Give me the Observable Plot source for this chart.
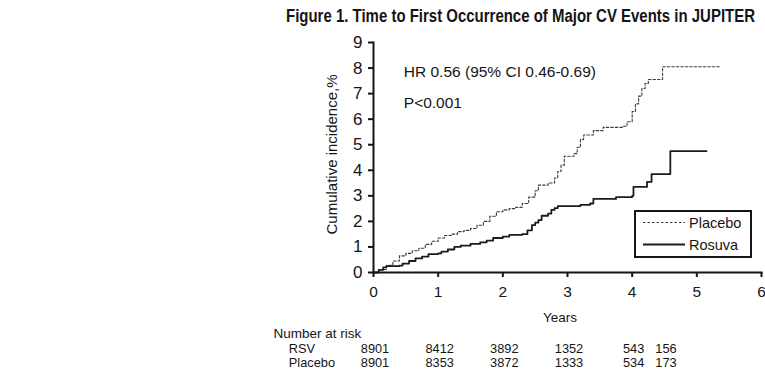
<!DOCTYPE html>
<html><head><meta charset="utf-8">
<script src="https://cdn.jsdelivr.net/npm/d3@7"></script>
<script src="https://cdn.jsdelivr.net/npm/@observablehq/plot@0.6"></script>
<style>
body{margin:0;background:#fff;width:765px;height:372px;overflow:hidden;position:relative;font-family:"Liberation Sans",Arial,sans-serif;}
#title{position:absolute;z-index:3;left:286px;top:6px;font-family:"Liberation Sans",Arial,sans-serif;font-weight:bold;font-size:17.5px;line-height:20px;white-space:nowrap;transform-origin:0 0;color:#151515}
#chart{position:absolute;left:0;top:0;z-index:1}
#legend{position:absolute;left:634px;top:210px;z-index:2}
</style></head><body>
<div id="title">Figure 1. Time to First Occurrence of Major CV Events in JUPITER</div>
<div id="chart"></div>
<svg id="legend" width="118" height="48"></svg>
<script>
// Kaplan-Meier style cumulative incidence (%)
const placeboYears = [0,0.1,0.2,0.3,0.4,0.5,0.6,0.7,0.8,0.9,1.0,1.1,1.2,1.3,1.4,1.5,1.6,1.7,1.8,1.9,2.0,2.1,2.2,2.3,2.4,2.5,2.55,2.7,2.8,2.85,2.9,2.95,3.1,3.15,3.2,3.25,3.4,3.55,3.85,3.92,4.0,4.05,4.1,4.15,4.2,4.25,4.47,5.37];
const placeboIncidence = [0,0.12,0.28,0.45,0.65,0.75,0.85,0.95,1.1,1.22,1.35,1.45,1.5,1.6,1.65,1.72,1.85,2.0,2.2,2.38,2.45,2.5,2.55,2.7,2.95,3.2,3.42,3.5,3.7,3.95,4.2,4.55,4.65,4.9,5.2,5.38,5.55,5.68,5.72,5.9,6.3,6.6,6.9,7.2,7.4,7.55,8.05,8.05];
const rosuvaYears = [0,0.08,0.15,0.2,0.4,0.45,0.55,0.65,0.75,0.85,1.0,1.05,1.15,1.25,1.35,1.5,1.65,1.75,1.85,2.0,2.1,2.3,2.38,2.45,2.5,2.55,2.6,2.7,2.75,2.8,2.85,3.2,3.35,3.4,3.75,4.0,4.02,4.23,4.3,4.59,5.15];
const rosuvaIncidence = [0,0.1,0.2,0.25,0.27,0.35,0.45,0.55,0.62,0.72,0.75,0.82,0.9,1.0,1.05,1.12,1.18,1.25,1.35,1.4,1.47,1.5,1.65,1.85,1.95,2.05,2.22,2.3,2.45,2.52,2.6,2.65,2.7,2.88,2.95,3.0,3.35,3.55,3.85,4.75,4.75];

const xTicks = [0,1,2,3,4,5,6];
const yTicks = [0,1,2,3,4,5,6,7,8,9];

const riskYears = [0,1,2,3,4,4.5];
const riskRSV = ["8901","8412","3892","1352","543","156"];
const riskPlacebo = ["8901","8353","3872","1333","534","173"];
const riskRowLabels = ["RSV","Placebo"];

const hrText = "HR 0.56 (95% CI 0.46-0.69)";
const pText = "P<0.001";
const yLabel = "Cumulative incidence,%";
const xLabel = "Years";
const riskHeader = "Number at risk";
const seriesNames = ["Placebo","Rosuva"];

const placebo = placeboYears.map((t,i)=>({t, v: placeboIncidence[i]}));
const rosuva = rosuvaYears.map((t,i)=>({t, v: rosuvaIncidence[i]}));

const ink = "#151515";
const tableFont = 12.8;

const plot = Plot.plot({
  width: 765, height: 372,
  marginTop: 42, marginBottom: 100, marginLeft: 373, marginRight: 4,
  x: {domain: [0, 6]},
  y: {domain: [0, 9]},
  style: {fontFamily: '"Liberation Sans", Arial, sans-serif', color: ink, background: "transparent", overflow: "visible"},
  marks: [
    Plot.line(placebo, {x: "t", y: "v", curve: "step-after", stroke: "#3c3c3c", strokeWidth: 1.1, strokeDasharray: "2.5,2"}),
    Plot.line(rosuva, {x: "t", y: "v", curve: "step-after", stroke: "#1c1c1c", strokeWidth: 1.8}),
    Plot.frame({anchor: "left", stroke: ink, strokeWidth: 2}),
    Plot.frame({anchor: "bottom", stroke: ink, strokeWidth: 2}),
    Plot.axisY({ticks: yTicks, tickFormat: d => String(d), tickSize: 5, tickPadding: 6, fontSize: 17, strokeWidth: 2, label: null, stroke: ink, fill: ink}),
    Plot.axisX({ticks: xTicks, tickFormat: d => String(d), tickSize: 5, tickPadding: 8.5, fontSize: 15.5, strokeWidth: 2, label: null, stroke: ink, fill: ink}),
    Plot.text([yLabel], {text: d => d, frameAnchor: "left", textAnchor: "middle", lineAnchor: "middle", rotate: -90, dx: -41.5, dy: -3, fontSize: 15, fill: ink}),
    Plot.text([hrText], {text: d => d, frameAnchor: "top-left", textAnchor: "start", lineAnchor: "middle", dx: 30.3, dy: 29.3, fontSize: 15.5, fill: ink}),
    Plot.text([pText], {text: d => d, frameAnchor: "top-left", textAnchor: "start", lineAnchor: "middle", dx: 30.3, dy: 60.5, fontSize: 15.5, fill: ink}),
    Plot.text([xLabel], {text: d => d, frameAnchor: "bottom", lineAnchor: "middle", dx: -7.5, dy: 45.3, fontSize: 13.5, fill: ink}),
    Plot.text([riskHeader], {text: d => d, frameAnchor: "bottom-left", textAnchor: "start", lineAnchor: "middle", dx: -100, dy: 61.3, fontSize: 13.5, fill: ink}),
    Plot.text([riskRowLabels[0]], {text: d => d, frameAnchor: "bottom-left", textAnchor: "start", lineAnchor: "middle", dx: -84.7, dy: 76.5, fontSize: tableFont, fill: ink}),
    Plot.text([riskRowLabels[1]], {text: d => d, frameAnchor: "bottom-left", textAnchor: "start", lineAnchor: "middle", dx: -84.7, dy: 90.3, fontSize: tableFont, fill: ink}),
    Plot.text(riskYears, {x: d => d, text: (d, i) => riskRSV[i], frameAnchor: "bottom", lineAnchor: "middle", dx: 1.5, dy: 76.5, fontSize: tableFont, fill: ink}),
    Plot.text(riskYears, {x: d => d, text: (d, i) => riskPlacebo[i], frameAnchor: "bottom", lineAnchor: "middle", dx: 1.5, dy: 90.3, fontSize: tableFont, fill: ink})
  ]
});
document.getElementById("chart").appendChild(plot);

// legend box
const lg = d3.select("#legend");
lg.append("rect").attr("x", 1).attr("y", 1).attr("width", 116).attr("height", 46)
  .attr("fill", "white").attr("stroke", ink).attr("stroke-width", 2);
const rows = [{name: seriesNames[0], dash: "2.5,2", w: 1.1, c: "#3c3c3c", y: 12.5},
              {name: seriesNames[1], dash: null, w: 1.8, c: "#1c1c1c", y: 34.5}];
rows.forEach(r => {
  lg.append("line").attr("x1", 9).attr("x2", 51).attr("y1", r.y).attr("y2", r.y)
    .attr("stroke", r.c).attr("stroke-width", r.w).attr("stroke-dasharray", r.dash);
  lg.append("text").attr("x", 55).attr("y", r.y).attr("dy", "0.35em")
    .attr("font-family", '"Liberation Sans", Arial, sans-serif').attr("font-size", 14.5)
    .attr("fill", ink).text(r.name);
});

// fit title to the measured width in the reference
const title = document.getElementById("title");
const w = title.getBoundingClientRect().width;
title.style.transform = `scaleX(${469 / w})`;
</script>
</body></html>
